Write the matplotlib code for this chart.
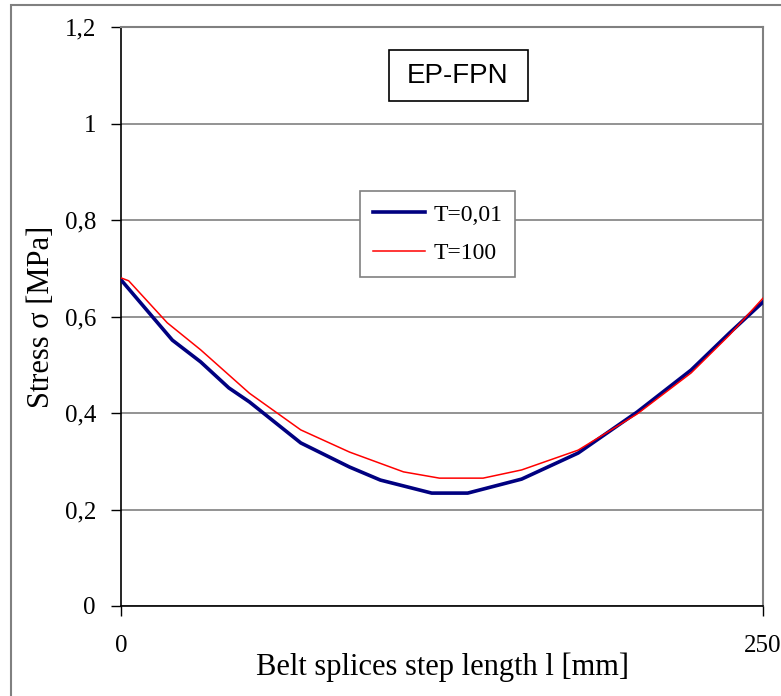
import matplotlib.pyplot as plt
from matplotlib.patches import Rectangle

# data
l_blue = [0, 20, 31, 42, 50, 70, 89, 101, 121, 135, 156, 178, 201, 222, 237, 250]
s_blue = [0.676, 0.551, 0.506, 0.452, 0.423, 0.338, 0.288, 0.261, 0.234, 0.234,
          0.263, 0.317, 0.402, 0.489, 0.566, 0.630]

l_red = [0, 3, 18, 31, 50, 70, 89, 110, 124, 141, 156, 178, 201, 222, 237, 250]
s_red = [0.680, 0.674, 0.587, 0.531, 0.441, 0.365, 0.319, 0.278, 0.265, 0.265,
         0.282, 0.323, 0.398, 0.483, 0.562, 0.638]

yticks = [0, 0.2, 0.4, 0.6, 0.8, 1.0, 1.2]
ytick_labels = ['0', '0,2', '0,4', '0,6', '0,8', '1', '1,2']
xticks = [0, 250]

serif = ['Liberation Serif', 'DejaVu Serif']
W, H = 781, 696

fig = plt.figure(figsize=(W/100, H/100), dpi=100)
# outer frame (runs off the right and bottom of the picture)
fig.patches.append(Rectangle((11/W, -0.05), 1.0, 1 - 5/H + 0.05,
                             transform=fig.transFigure, fill=False,
                             edgecolor='#808080', lw=1.5))

ax = fig.add_axes([121/W, 1 - 606/H, (763-121)/W, (606-27)/H])
ax.plot(l_blue, s_blue, color='#000080', lw=2.6, label='T=0,01', zorder=3)
ax.plot(l_red, s_red, color='#ff0000', lw=1.1, label='T=100', zorder=3)

ax.set_xlim(0, 250)
ax.set_ylim(0, 1.2)
ax.set_yticks(yticks)
ax.set_yticklabels(ytick_labels, family=serif, fontsize=18)
ax.set_xticks(xticks)
ax.set_xticklabels([str(v) for v in xticks], family=serif, fontsize=18)
ax.tick_params(axis='y', direction='out', length=7, width=1, pad=11)
ax.tick_params(axis='x', direction='out', length=7, width=1, pad=14)

ax.grid(axis='y', color='#808080', lw=1.2)
ax.set_axisbelow(True)
for s in ['top', 'right']:
    ax.spines[s].set_color('#808080')
    ax.spines[s].set_linewidth(1.5)
for s in ['left', 'bottom']:
    ax.spines[s].set_color('black')
    ax.spines[s].set_linewidth(1.2)

ax.set_xlabel('Belt splices step length l [mm]', family=serif, fontsize=22)
ax.xaxis.set_label_coords((442-121)/642, -(652-606)/579)
ax.set_ylabel('Stress σ [MPa]', family=serif, fontsize=22)
ax.yaxis.set_label_coords(-(121-56)/642, (606-317)/579)

# title box
fig.patches.append(Rectangle((389/W, 1 - 101/H), 139/W, 51/H,
                             transform=fig.transFigure, fill=True, facecolor='white',
                             edgecolor='black', lw=1.2, zorder=0))
fig.text(458/W, 1 - 76/H, 'EP-FPN', fontsize=20, family='Liberation Sans',
         ha='center', va='center')
ax.patch.set_visible(False)

leg = ax.legend(loc='center', bbox_to_anchor=((437.5-121)/642, (606-234)/579),
                prop={'family': serif, 'size': 17}, fancybox=False,
                edgecolor='#808080', framealpha=1, handlelength=2.2,
                borderpad=0.55, labelspacing=0.7, handletextpad=0.35)
leg.get_frame().set_linewidth(1.2)

fig.savefig('out.png', dpi=100)
